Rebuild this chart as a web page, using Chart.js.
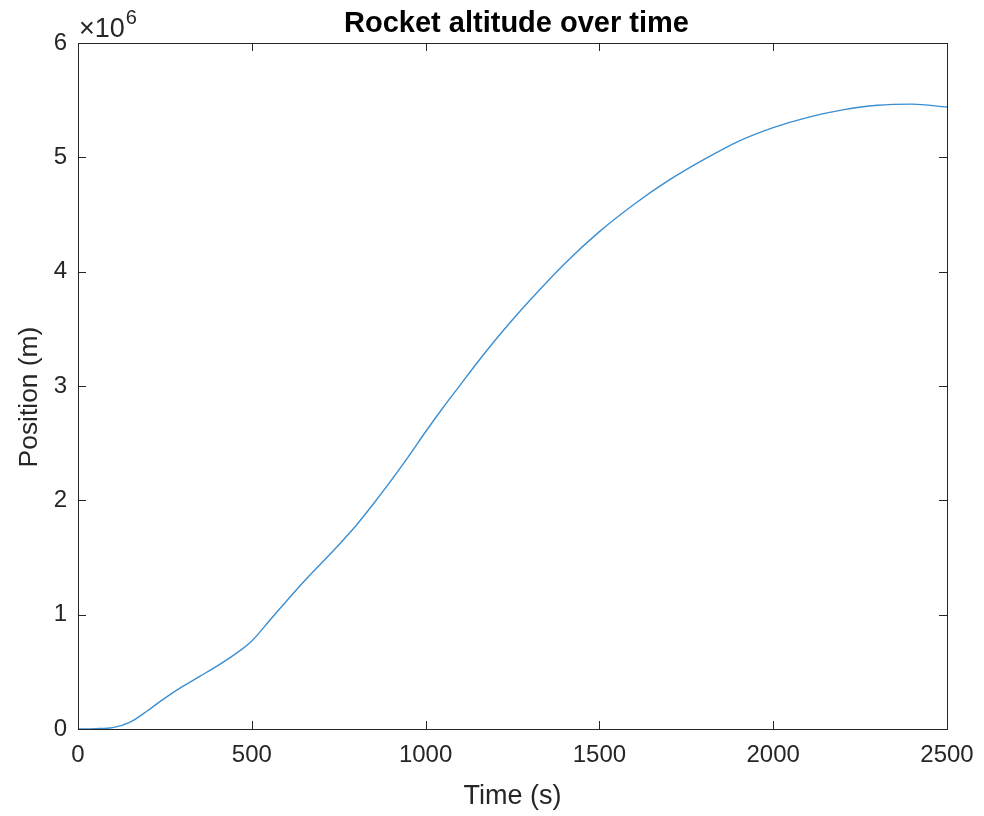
<!DOCTYPE html>
<html>
<head>
<meta charset="utf-8">
<script src="https://cdn.jsdelivr.net/npm/chart.js@4"></script>
<style>
  html, body { margin: 0; padding: 0; background: #fff; }
  #wrap { width: 984px; height: 816px; }
</style>
</head>
<body>
<div id="wrap"><canvas id="altChart" width="984" height="816"></canvas></div>
<script>
// values (time in s, altitude in m)
var times = [0, 50, 100, 150, 200, 250, 300, 350, 400, 450, 500, 550, 600, 650, 700, 750, 800, 850, 900, 950,
  1000, 1050, 1100, 1150, 1200, 1250, 1300, 1400, 1500, 1600, 1700, 1800, 1900, 2000, 2100, 2200, 2300, 2400, 2500];
var altitudes = [0, 3e3, 12e3, 60e3, 160e3, 270e3, 370e3, 460e3, 550e3, 650e3, 770e3, 945e3, 1120e3, 1290e3, 1450e3, 1610e3, 1780e3, 1970e3, 2170e3, 2380e3,
  2600e3, 2810e3, 3010e3, 3210e3, 3400e3, 3580e3, 3750e3, 4070e3, 4350e3, 4590e3, 4800e3, 4980e3, 5140e3, 5260e3, 5350e3, 5415e3, 5455e3, 5465e3, 5440e3];
var xTicks = [0, 500, 1000, 1500, 2000, 2500];
var yTicks = [0, 1, 2, 3, 4, 5, 6];   // in units of 10^6

var axisColor = '#262626';
var fontFam = '"Liberation Sans", Arial, Helvetica, sans-serif';

var points = [];
for (var i = 0; i < times.length; i++) {
  points.push({x: times[i], y: altitudes[i]});
}

// box round the axes, inward ticks, title, y label and exponent
var matlabAxes = {
  id: 'matlabAxes',
  afterDraw: function(chart) {
    var ctx = chart.ctx;
    var a = chart.chartArea;
    var xs = chart.scales.x, ys = chart.scales.y;
    var tl = 8;
    ctx.save();
    ctx.strokeStyle = axisColor;
    ctx.lineWidth = 1;
    ctx.strokeRect(Math.round(a.left) + 0.5, Math.round(a.top) + 0.5,
      Math.round(a.right - a.left), Math.round(a.bottom - a.top));
    ctx.beginPath();
    xTicks.forEach(function(v) {
      var px = Math.round(xs.getPixelForValue(v)) + 0.5;
      ctx.moveTo(px, a.bottom); ctx.lineTo(px, a.bottom - tl);
      ctx.moveTo(px, a.top); ctx.lineTo(px, a.top + tl);
    });
    yTicks.forEach(function(v) {
      var py = Math.round(ys.getPixelForValue(v * 1e6)) + 0.5;
      ctx.moveTo(a.left, py); ctx.lineTo(a.left + tl, py);
      ctx.moveTo(a.right, py); ctx.lineTo(a.right - tl, py);
    });
    ctx.stroke();

    // title
    ctx.fillStyle = '#000';
    ctx.font = 'bold 29px ' + fontFam;
    ctx.textAlign = 'center';
    ctx.textBaseline = 'alphabetic';
    ctx.fillText('Rocket altitude over time', (a.left + a.right) / 2 + 4, 32);

    // y label
    ctx.fillStyle = axisColor;
    ctx.font = '26.4px ' + fontFam;
    ctx.save();
    ctx.translate(30, 397);
    ctx.rotate(-Math.PI / 2);
    ctx.textBaseline = 'middle';
    ctx.fillText('Position (m)', 0, 0);
    ctx.restore();

    // x10^6 multiplier
    ctx.textAlign = 'left';
    ctx.font = '27px ' + fontFam;
    ctx.fillText('\u00d710', a.left + 1, 37);
    var w = ctx.measureText('\u00d710').width;
    ctx.font = '20px ' + fontFam;
    ctx.fillText('6', a.left + 1 + w + 1, 24);
    ctx.restore();
  }
};

new Chart(document.getElementById('altChart').getContext('2d'), {
  type: 'line',
  data: {
    datasets: [{
      label: 'Altitude',
      data: points,
      borderColor: '#3a8fd3',
      borderWidth: 1.4,
      pointRadius: 0,
      fill: false,
      cubicInterpolationMode: 'monotone'
    }]
  },
  options: {
    responsive: false,
    animation: false,
    layout: { padding: { top: 43, right: 37, left: 0, bottom: 0 } },
    plugins: {
      legend: { display: false },
      tooltip: { enabled: false },
      title: { display: false }
    },
    scales: {
      x: {
        type: 'linear',
        min: 0,
        max: 2500,
        afterBuildTicks: function(scale) {
          scale.ticks = xTicks.map(function(v) { return {value: v}; });
        },
        afterFit: function(scale) {
          scale.height = 87;
          scale.paddingLeft = 0;
          scale.paddingRight = 0;
        },
        grid: { display: false, drawTicks: false },
        border: { display: false },
        ticks: {
          color: axisColor,
          padding: 12,
          maxRotation: 0,
          font: { family: fontFam, size: 24 },
          callback: function(v) { return String(v); }
        },
        title: {
          display: true,
          text: 'Time (s)',
          color: axisColor,
          padding: { top: 0, bottom: 3 },
          font: { family: fontFam, size: 27 }
        }
      },
      y: {
        min: 0,
        max: 6e6,
        afterBuildTicks: function(scale) {
          scale.ticks = yTicks.map(function(v) { return {value: v * 1e6}; });
        },
        afterFit: function(scale) { scale.width = 78; },
        grid: { display: false, drawTicks: false },
        border: { display: false },
        ticks: {
          color: axisColor,
          padding: 11,
          font: { family: fontFam, size: 24 },
          callback: function(v) { return String(v / 1e6); }
        },
        title: { display: false }
      }
    }
  },
  plugins: [matlabAxes]
});
</script>
</body>
</html>
